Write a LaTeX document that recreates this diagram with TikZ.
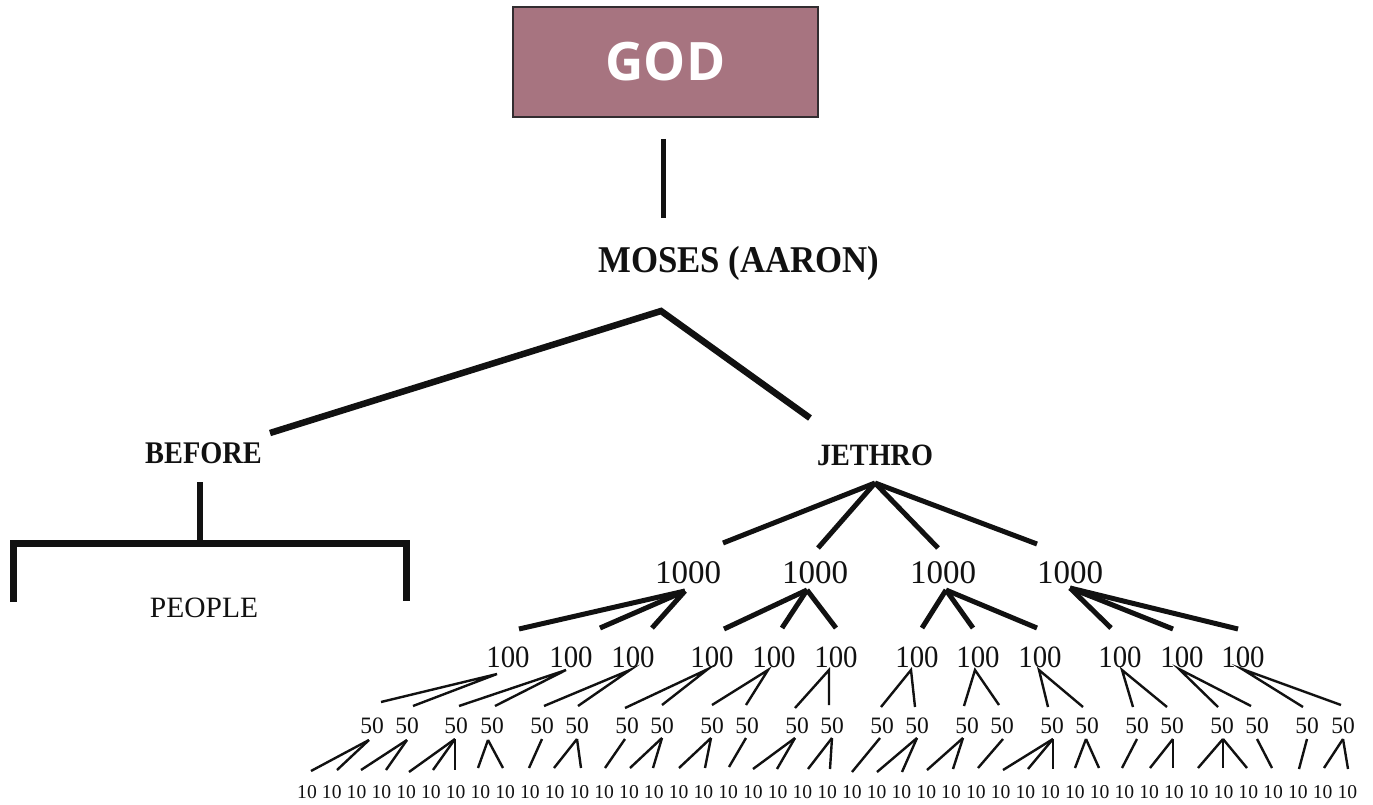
\documentclass[tikz,border=0pt]{standalone}
\usepackage{fontspec}
\setmainfont{Liberation Serif}
\newfontfamily\godfont{Open Sans}
\newcommand\fsz[1]{\fontsize{#1}{#1}\selectfont}
\definecolor{godfill}{RGB}{167,116,128}
\definecolor{godline}{RGB}{50,45,48}
\definecolor{ink}{RGB}{17,17,17}
\tikzset{
  lab/.style={inner sep=0pt, anchor=base, text=ink},
  bigline/.style={draw=ink, line width=6.5pt},
  midline/.style={draw=ink, line width=5pt},
  fineline/.style={draw=ink, line width=2.4pt},
  godbox/.style={draw=godline, line width=1.5pt, fill=godfill, minimum width=305pt, minimum height=110pt, inner sep=0pt, text=white, font=\godfont\bfseries\fsz{53}},
}
\begin{document}
\begin{tikzpicture}[x=1pt,y=-1pt]
\useasboundingbox (0,0) rectangle (1373,805);

% top
\node[godbox] (god) at (665.5,62) {GOD};
\node[lab, font=\bfseries\fsz{37.8}] (moses) at (739,272) {\scalebox{0.92}[1]{MOSES (AARON)}};
\coordinate (godout) at (663,139);
\coordinate (mosesin) at (663,218);
\draw[midline] (godout) -- (mosesin);

\node[lab, font=\bfseries\fsz{31.5}] (before) at (203.5,463) {\scalebox{0.9}[1]{BEFORE}};
\node[lab, font=\bfseries\fsz{31}] (jethro) at (875,465) {\scalebox{0.91}[1]{JETHRO}};
\coordinate (mosesout) at (661,311);
\coordinate (beforein) at (270,433);
\coordinate (jethroin) at (810,418);
\draw[bigline] (beforein) -- (mosesout) -- (jethroin);

% before bracket
\node[lab, font=\fsz{29.5}] (people) at (204,617) {PEOPLE};
\coordinate (beforeout) at (200,482);
\coordinate (barmid) at (200,543.5);
\coordinate (legl) at (13.5,602);
\coordinate (legr) at (406.5,601);
\draw[draw=ink, line width=7pt, miter limit=10] (legl) -- (13.5,543.5) -- (406.5,543.5) -- (legr);
\draw[draw=ink, line width=6.5pt] (beforeout) -- (barmid);

% jethro tree
\coordinate (jo) at (875,483);
\foreach \i/\x/\ix/\iy/\ox/\oy in {1/688/723/543/685/591, 2/815/818/548/807/590, 3/943/938/548/946/590, 4/1070/1037/544/1070/588}{
  \node[lab, font=\fsz{33}] (k\i) at (\x,583) {1000};
  \coordinate (ki\i) at (\ix,\iy);
  \coordinate (ko\i) at (\ox,\oy);
  \draw[midline] (jo) -- (ki\i);
}

% hundreds
\foreach \i/\x/\ix/\iy/\ox/\oy in {
  1/508/519/629/497/674, 2/571/600/628/566/670, 3/633/652/628/630/670,
  4/712/724/629/708/669, 5/774/782/628/768/670, 6/836/836/628/829/670,
  7/917/922/628/911/670, 8/978/973/628/975/670, 9/1040/1037/628/1039/670,
  10/1120/1111/628/1122/670, 11/1182/1173/629/1179/669, 12/1243/1238/629/1242/669}{
  \node[lab, font=\fsz{31}] (h\i) at (\x,667) {\scalebox{0.93}[1]{100}};
  \coordinate (hi\i) at (\ix,\iy);
  \coordinate (ho\i) at (\ox,\oy);
}
\foreach \p/\c in {1/1,1/2,1/3,2/4,2/5,2/6,3/7,3/8,3/9,4/10,4/11,4/12}{
  \draw[midline] (ko\p) -- (hi\c);
}

% fifties
\foreach \i/\x/\ix/\iy/\ox/\oy in {
  1/372/381/702/369/740, 2/407/413/706/407/740, 3/456/459/706/455/739,
  4/492/495/706/488/740, 5/542/544/706/542/739, 6/577/578/706/577/739,
  7/627/625/708/625/739, 8/662/662/705/662/738, 9/712/712/705/711/738,
  10/747/746/705/746/738, 11/797/795/708/795/738, 12/832/829/705/832/738,
  13/882/881/707/880/738, 14/917/915/707/917/738, 15/967/964/706/963/738,
  16/1002/999/705/1003/739, 17/1052/1048/707/1053/739, 18/1087/1083/707/1086/739,
  19/1137/1133/707/1137/739, 20/1172/1167/707/1173/739, 21/1222/1218/707/1223/739,
  22/1257/1251/706/1257/739, 23/1307/1303/707/1307/739, 24/1343/1341/705/1343/739}{
  \node[lab, font=\fsz{23.5}] (f\i) at (\x,733) {50};
  \coordinate (fi\i) at (\ix,\iy);
  \coordinate (fo\i) at (\ox,\oy);
}
\foreach \p in {1,...,12}{
  \pgfmathtruncatemacro\ca{2*\p-1}
  \pgfmathtruncatemacro\cb{2*\p}
  \draw[fineline] (fi\ca) -- (ho\p) -- (fi\cb);
}

% tens
\foreach \i/\ix/\iy in {
  0/311/771, 1/337/770, 2/361/770, 3/386/770, 4/409/772, 5/433/770, 6/455/770,
  7/478/768, 8/503/768, 9/529/768, 10/554/768, 11/581/768, 12/605/768, 13/630/768,
  14/653/768, 15/679/768, 16/705/768, 17/729/767, 18/753/769, 19/777/769, 20/808/769,
  21/830/769, 22/852/772, 23/877/772, 24/902/772, 25/927/770, 26/953/769, 27/978/768,
  28/1003/770, 29/1028/769, 30/1053/769, 31/1075/768, 32/1099/768, 33/1122/768,
  34/1150/768, 35/1173/768, 36/1198/768, 37/1223/768, 38/1247/768, 39/1272/768,
  40/1299/769, 41/1324/768, 42/1348/769}{
  \node[lab, font=\fsz{19.6}] (t\i) at ({307+24.77*\i},798) {10};
  \coordinate (ti\i) at (\ix,\iy);
}
\foreach \p/\c in {1/0,1/1,2/2,2/3,3/4,3/5,3/6,4/7,4/8,5/9,6/10,6/11,7/12,8/13,8/14,
  9/15,9/16,10/17,11/18,11/19,12/20,12/21,13/22,14/23,14/24,15/25,15/26,16/27,
  17/28,17/29,17/30,18/31,18/32,19/33,20/34,20/35,21/36,21/37,21/38,22/39,23/40,24/41,24/42}{
  \draw[fineline] (fo\p) -- (ti\c);
}
\end{tikzpicture}
\end{document}
